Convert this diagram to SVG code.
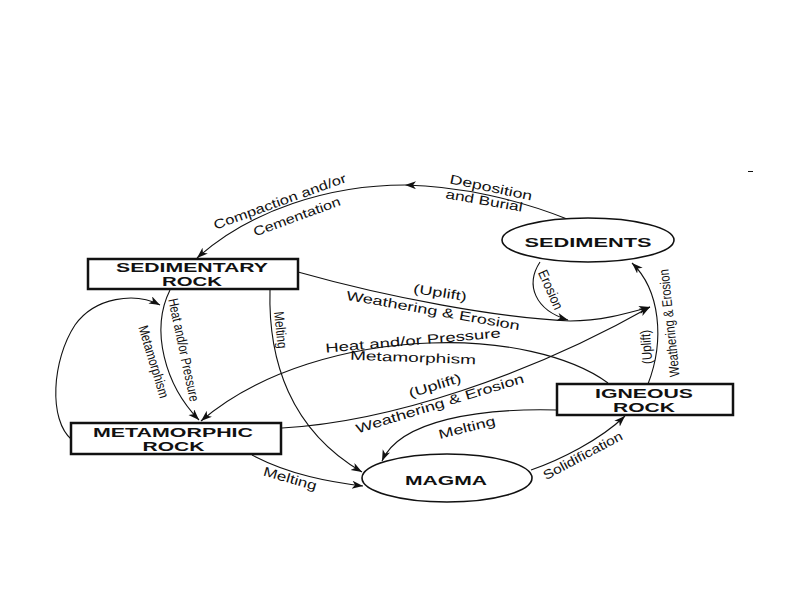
<svg xmlns="http://www.w3.org/2000/svg" width="794" height="595" viewBox="0 0 794 595">
<defs>
<style>
.box{fill:#fff;stroke:#111;stroke-width:2.5}
.ell{fill:#fff;stroke:#111;stroke-width:1.6}
.nt{font-family:"Liberation Sans",Arial,sans-serif;font-weight:bold;font-size:13px;fill:#111;text-anchor:middle}
.lbl{font-family:"Liberation Sans",Arial,sans-serif;font-size:13px;fill:#111;text-anchor:middle}
.v{font-size:14px}
.c{fill:none;stroke:#111;stroke-width:1.1}
.a{marker-end:url(#ah)}
</style>
<marker id="ah" markerUnits="userSpaceOnUse" markerWidth="12" markerHeight="9" refX="11" refY="4" orient="auto">
<path d="M0,0 L11,4 L0,8 L3,4 Z" fill="#111"/>
</marker>
</defs>
<rect width="794" height="595" fill="#fff"/>
<g id="connectors">
<path class="c a" d="M567,219 C520,200 460,186 405,185"/>
<path class="c a" d="M405,185 C330,185 250,210 197,258"/>
<path class="c a" d="M540,262 C525,285 535,310 568,320"/>
<path class="c" d="M298,272 C390,298 500,318 570,321"/>
<path class="c a" d="M570,321 C600,321 625,314 650,307"/>
<path class="c a" d="M648,384 C665,340 660,290 632,263"/>
<path class="c a" d="M170,290 C150,330 165,385 199,420"/>
<path class="c a" d="M72,440 C48,420 52,360 75,325 C95,297 135,292 160,305"/>
<path class="c a" d="M270,290 C268,360 290,430 362,472"/>
<path class="c a" d="M608,383 C570,355 500,340 430,343 C350,346 260,370 201,421"/>
<path class="c a" d="M282,428 C390,422 530,375 650,307"/>
<path class="c a" d="M557,410 C480,408 400,420 382,461"/>
<path class="c a" d="M531,470 C560,460 600,440 625,416"/>
<path class="c a" d="M252,455 C290,475 330,482 363,486"/>
<line x1="748" y1="171.5" x2="753" y2="171.5" stroke="#111" stroke-width="1"/>
</g>
<g id="labels">
<text class="lbl" transform="translate(491,188) rotate(12)" y="4" textLength="84" lengthAdjust="spacingAndGlyphs">Deposition</text>
<text class="lbl" transform="translate(484,201) rotate(10)" y="4" textLength="78" lengthAdjust="spacingAndGlyphs">and Burial</text>
<text class="lbl" transform="translate(280,202) rotate(-20)" y="4" textLength="140" lengthAdjust="spacingAndGlyphs">Compaction and/or</text>
<text class="lbl" transform="translate(297,217) rotate(-20)" y="4" textLength="92" lengthAdjust="spacingAndGlyphs">Cementation</text>
<text class="lbl" transform="translate(440,293) rotate(9)" y="4" textLength="54" lengthAdjust="spacingAndGlyphs">(Uplift)</text>
<text class="lbl" transform="translate(433,311) rotate(10)" y="4" textLength="176" lengthAdjust="spacingAndGlyphs">Weathering &amp; Erosion</text>
<text class="lbl v" transform="translate(550,290) rotate(66)" y="4" textLength="42" lengthAdjust="spacingAndGlyphs">Erosion</text>
<text class="lbl v" transform="translate(670,323) rotate(-96)" y="4" textLength="108" lengthAdjust="spacingAndGlyphs">Weathering &amp; Erosion</text>
<text class="lbl v" transform="translate(647,347) rotate(-94)" y="4" textLength="34" lengthAdjust="spacingAndGlyphs">(Uplift)</text>
<text class="lbl v" transform="translate(183,350) rotate(78)" y="4" textLength="105" lengthAdjust="spacingAndGlyphs">Heat and/or Pressure</text>
<text class="lbl v" transform="translate(153,362) rotate(73)" y="4" textLength="75" lengthAdjust="spacingAndGlyphs">Metamorphism</text>
<text class="lbl v" transform="translate(280,330) rotate(84)" y="4" textLength="37" lengthAdjust="spacingAndGlyphs">Melting</text>
<text class="lbl" transform="translate(413,341) rotate(-5)" y="4" textLength="176" lengthAdjust="spacingAndGlyphs">Heat and/or Pressure</text>
<text class="lbl" transform="translate(413,358) rotate(2)" y="4" textLength="126" lengthAdjust="spacingAndGlyphs">Metamorphism</text>
<text class="lbl" transform="translate(435,386) rotate(-17)" y="4" textLength="54" lengthAdjust="spacingAndGlyphs">(Uplift)</text>
<text class="lbl" transform="translate(440,404) rotate(-17)" y="4" textLength="175" lengthAdjust="spacingAndGlyphs">Weathering &amp; Erosion</text>
<text class="lbl" transform="translate(467,428) rotate(-14)" y="4" textLength="58" lengthAdjust="spacingAndGlyphs">Melting</text>
<text class="lbl" transform="translate(583,456) rotate(-28)" y="4" textLength="88" lengthAdjust="spacingAndGlyphs">Solidification</text>
<text class="lbl" transform="translate(290,479) rotate(16)" y="4" textLength="55" lengthAdjust="spacingAndGlyphs">Melting</text>
</g>
<g id="sedimentary-rock">
<rect class="box" x="88" y="259" width="210" height="30"/>
<text class="nt" x="192" y="272" textLength="152" lengthAdjust="spacingAndGlyphs">SEDIMENTARY</text>
<text class="nt" x="192" y="285.5" textLength="60" lengthAdjust="spacingAndGlyphs">ROCK</text>
</g>
<g id="sediments">
<ellipse class="ell" cx="588" cy="240" rx="86" ry="22"/>
<text class="nt" x="588" y="247" textLength="127" lengthAdjust="spacingAndGlyphs">SEDIMENTS</text>
</g>
<g id="metamorphic-rock">
<rect class="box" x="71" y="423" width="210" height="31"/>
<text class="nt" x="173" y="437" textLength="160" lengthAdjust="spacingAndGlyphs">METAMORPHIC</text>
<text class="nt" x="173.5" y="451" textLength="62" lengthAdjust="spacingAndGlyphs">ROCK</text>
</g>
<g id="igneous-rock">
<rect class="box" x="557" y="384" width="176" height="31"/>
<text class="nt" x="644" y="398" textLength="98" lengthAdjust="spacingAndGlyphs">IGNEOUS</text>
<text class="nt" x="644" y="412" textLength="62" lengthAdjust="spacingAndGlyphs">ROCK</text>
</g>
<g id="magma">
<ellipse class="ell" cx="447" cy="478" rx="85" ry="24"/>
<text class="nt" x="446" y="485" textLength="82" lengthAdjust="spacingAndGlyphs">MAGMA</text>
</g>
</svg>
